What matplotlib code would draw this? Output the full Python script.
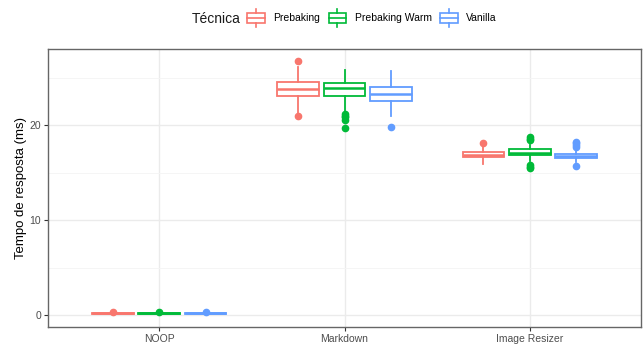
import matplotlib
matplotlib.use("Agg")
import matplotlib.pyplot as plt
from matplotlib.legend_handler import HandlerBase
from matplotlib.patches import Rectangle
from matplotlib.lines import Line2D

plt.rcParams['font.family'] = ['Liberation Sans', 'DejaVu Sans']

categories = ["NOOP", "Markdown", "Image Resizer"]
techniques = ["Prebaking", "Prebaking Warm", "Vanilla"]
colors = ["#F8766D", "#00BA38", "#619CFF"]

# boxplot summaries (ms), one list per technique, ordered as categories
q1 = {
    "Prebaking":      [0.15, 23.1, 16.6],
    "Prebaking Warm": [0.15, 23.1, 16.85],
    "Vanilla":        [0.15, 22.55, 16.5],
}
med = {
    "Prebaking":      [0.2, 23.75, 16.9],
    "Prebaking Warm": [0.2, 23.9, 17.1],
    "Vanilla":        [0.2, 23.25, 16.75],
}
q3 = {
    "Prebaking":      [0.25, 24.5, 17.15],
    "Prebaking Warm": [0.25, 24.4, 17.45],
    "Vanilla":        [0.25, 24.0, 17.0],
}
whislo = {
    "Prebaking":      [0.1, 21.3, 15.9],
    "Prebaking Warm": [0.1, 21.4, 16.2],
    "Vanilla":        [0.1, 21.0, 16.1],
}
whishi = {
    "Prebaking":      [0.3, 26.1, 17.9],
    "Prebaking Warm": [0.3, 25.8, 17.9],
    "Vanilla":        [0.3, 25.7, 17.5],
}
fliers = {
    "Prebaking":      [[0.32], [26.7, 21.0], [18.15]],
    "Prebaking Warm": [[0.32], [21.2, 21.0, 20.8, 20.5, 19.7],
                       [18.4, 18.55, 18.7, 15.8, 15.6, 15.5]],
    "Vanilla":        [[0.32], [19.8], [17.7, 17.9, 18.1, 18.2, 15.7]],
}

fig = plt.figure(figsize=(6.44, 3.44), dpi=100)
ax = fig.add_axes([48 / 644, 17 / 344, 593 / 644, 278 / 344])

offsets = [-0.25, 0.0, 0.25]
for k, (tech, col) in enumerate(zip(techniques, colors)):
    stats = []
    for i in range(len(categories)):
        stats.append(dict(q1=q1[tech][i], med=med[tech][i], q3=q3[tech][i],
                          whislo=whislo[tech][i], whishi=whishi[tech][i],
                          fliers=fliers[tech][i]))
    pos = [i + offsets[k] for i in range(len(categories))]
    ax.bxp(stats, positions=pos, widths=0.225, showcaps=False, patch_artist=True,
           manage_ticks=False,
           boxprops=dict(facecolor="white", edgecolor=col, linewidth=1.3),
           medianprops=dict(color=col, linewidth=1.8),
           whiskerprops=dict(color=col, linewidth=1.3),
           flierprops=dict(marker="o", markerfacecolor=col, markeredgecolor=col,
                           markersize=4.5))

ax.set_xlim(-0.6, 2.6)
ax.set_ylim(-1.23, 28.0)
ax.set_xticks(range(len(categories)))
ax.set_xticklabels(categories)
ax.set_yticks([0, 10, 20])
ax.set_yticks([5, 15, 25], minor=True)
ax.grid(True, which="major", color="#EBEBEB", linewidth=1.0)
ax.grid(True, which="minor", axis="y", color="#F4F4F4", linewidth=0.6)
ax.set_axisbelow(True)
ax.tick_params(which="major", length=3, color="#333333", labelsize=7.5,
               labelcolor="#4D4D4D", pad=2)
ax.tick_params(which="minor", length=0)
for s in ax.spines.values():
    s.set_color("#666666")
    s.set_linewidth(1.0)
ax.set_ylabel("Tempo de resposta (ms)", fontsize=9.5, labelpad=2)


class BoxHandler(HandlerBase):
    def create_artists(self, legend, orig_handle, xdescent, ydescent,
                       width, height, fontsize, trans):
        c = orig_handle.get_edgecolor()
        x0, w = -xdescent, width
        y0, h = -ydescent, height
        cx = x0 + w / 2
        box = Rectangle((x0, y0 + 0.2 * h), w, 0.6 * h, facecolor="white",
                        edgecolor=c, linewidth=1.2, transform=trans)
        mline = Line2D([x0, x0 + w], [y0 + h / 2] * 2, color=c, lw=1.2, transform=trans)
        wtop = Line2D([cx, cx], [y0 + 0.8 * h, y0 + h], color=c, lw=1.2, transform=trans)
        wbot = Line2D([cx, cx], [y0, y0 + 0.2 * h], color=c, lw=1.2, transform=trans)
        return [box, mline, wtop, wbot]


handles = [Rectangle((0, 0), 1, 1, edgecolor=c, facecolor="white") for c in colors]
fig.text(192 / 644, 1 - 19 / 344, "Técnica", fontsize=10, color="#1A1A1A",
         ha="left", va="center")
fig.legend(handles, techniques, handler_map={Rectangle: BoxHandler()},
           loc="center left", bbox_to_anchor=(240 / 644, 1 - 18 / 344), ncol=3,
           frameon=False, fontsize=7.5, handlelength=1.7, handleheight=2.3,
           handletextpad=0.8, columnspacing=0.8, borderpad=0.2)

fig.savefig("out.png", dpi=100)
